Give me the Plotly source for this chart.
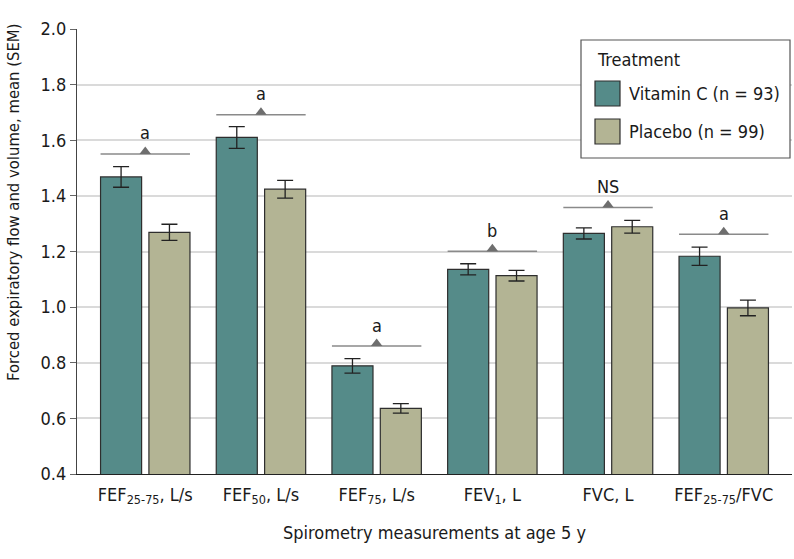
import plotly.graph_objects as go

# ---- data ----
categories = ["FEF<sub>25-75</sub>, L/s", "FEF<sub>50</sub>, L/s", "FEF<sub>75</sub>, L/s",
              "FEV<sub>1</sub>, L", "FVC, L", "FEF<sub>25-75</sub>/FVC"]
vitc_mean = [1.468, 1.610, 0.789, 1.136, 1.265, 1.183]
vitc_sem = [0.037, 0.039, 0.026, 0.020, 0.020, 0.033]
plac_mean = [1.269, 1.424, 0.636, 1.113, 1.289, 0.997]
plac_sem = [0.029, 0.032, 0.017, 0.019, 0.023, 0.028]
sig_level = [1.551, 1.692, 0.860, 1.201, 1.358, 1.262]
sig_label = ["a", "a", "a", "b", "NS", "a"]
y_ticks = [0.4, 0.6, 0.8, 1.0, 1.2, 1.4, 1.6, 1.8, 2.0]

# ---- style ----
FONT = "DejaVu Sans Condensed, DejaVu Sans"
TEXT = "#1a1a1a"
C_VIT = "#558b89"
C_PLA = "#b3b494"
OUTLINE = "#2e2e2e"
W, H = 794, 559
ML, MR, MT, MB = 77, 2, 29, 85
BARGAP = 0.164
GROUPGAP = 0.151
YMIN, YMAX = 0.4, 2.0
px_per_unit = (H - MT - MB) / (YMAX - YMIN)

x_idx = list(range(len(categories)))

fig = go.Figure()
fig.add_trace(go.Bar(
    x=x_idx, y=vitc_mean, name="Vitamin C (n = 93)",
    marker=dict(color=C_VIT, line=dict(color=OUTLINE, width=1.2)),
    error_y=dict(type="data", array=vitc_sem, color="#222", thickness=1.3, width=8),
))
fig.add_trace(go.Bar(
    x=x_idx, y=plac_mean, name="Placebo (n = 99)",
    marker=dict(color=C_PLA, line=dict(color=OUTLINE, width=1.2)),
    error_y=dict(type="data", array=plac_sem, color="#222", thickness=1.3, width=8),
))

# significance brackets
half = (1 - BARGAP) / 2 - (1 - BARGAP) / 2 * GROUPGAP / 2
for i, lvl in enumerate(sig_level):
    fig.add_trace(go.Scatter(
        x=[i - half, i + half], y=[lvl, lvl], mode="lines",
        line=dict(color="#8a8a8a", width=1.5), hoverinfo="skip", showlegend=False))
tri_size = 10
fig.add_trace(go.Scatter(
    x=x_idx, y=[l + (tri_size / 4) / px_per_unit for l in sig_level], mode="markers",
    marker=dict(symbol="triangle-up", size=tri_size, color="#6e6e6e"),
    hoverinfo="skip", showlegend=False))
for i, (lvl, lab) in enumerate(zip(sig_level, sig_label)):
    fig.add_annotation(x=i, y=lvl, text=lab, showarrow=False, yshift=21,
                       font=dict(family=FONT, size=18, color=TEXT))

# manual legend / free titles (pixel -> paper helpers)
def px2paper_x(px):
    return (px - ML) / (W - ML - MR)

def px2paper_y(py):
    return (H - MB - py) / (H - MT - MB)

shapes = [
    dict(type="rect", xref="paper", yref="paper",
         x0=px2paper_x(581), x1=px2paper_x(790), y0=px2paper_y(158), y1=px2paper_y(40),
         line=dict(color="#555", width=1.2), fillcolor="white", layer="above"),
    dict(type="rect", xref="paper", yref="paper",
         x0=px2paper_x(595), x1=px2paper_x(620), y0=px2paper_y(106), y1=px2paper_y(81),
         line=dict(color=OUTLINE, width=1.2), fillcolor=C_VIT, layer="above"),
    dict(type="rect", xref="paper", yref="paper",
         x0=px2paper_x(595), x1=px2paper_x(620), y0=px2paper_y(144), y1=px2paper_y(119),
         line=dict(color=OUTLINE, width=1.2), fillcolor=C_PLA, layer="above"),
]
for txt, px, py in [("Treatment", 595, 59), ("Vitamin C (n = 93)", 627, 93),
                    ("Placebo (n = 99)", 627, 131)]:
    fig.add_annotation(xref="paper", yref="paper", x=px2paper_x(px), y=px2paper_y(py),
                       text=txt, showarrow=False, xanchor="left", yanchor="middle",
                       font=dict(family=FONT, size=18, color=TEXT))

# y-axis title (placed as in the reference, slightly above plot centre)
fig.add_annotation(xref="paper", yref="paper", x=px2paper_x(13), y=px2paper_y(203),
                   text="Forced expiratory flow and volume, mean (SEM)", textangle=-90,
                   showarrow=False, xanchor="center", yanchor="middle",
                   font=dict(family=FONT, size=16.5, color=TEXT))

fig.update_layout(
    width=W, height=H, margin=dict(l=ML, r=MR, t=MT, b=MB, autoexpand=False),
    paper_bgcolor="white", plot_bgcolor="white",
    barmode="group", bargap=BARGAP, bargroupgap=GROUPGAP,
    showlegend=False, shapes=shapes,
    font=dict(family=FONT, size=18, color=TEXT),
    xaxis=dict(tickmode="array", tickvals=x_idx, ticktext=categories,
               range=[-0.59, len(categories) - 1 + 0.59], automargin=False,
               showline=True, linecolor="#222", linewidth=1.2, ticks="",
               ticklabelstandoff=4,
               showgrid=False, zeroline=False,
               tickfont=dict(family=FONT, size=18, color=TEXT),
               title=dict(text="Spirometry measurements at age 5 y", standoff=19,
                          font=dict(family=FONT, size=18, color=TEXT))),
    yaxis=dict(range=[YMIN, YMAX], tickvals=y_ticks, tickformat=".1f", automargin=False,
               showline=True, linecolor="#444", linewidth=1.2,
               ticks="outside", ticklen=6, tickcolor="#666",
               showgrid=True, gridcolor="#dadada", gridwidth=1.5, zeroline=False,
               tickfont=dict(family=FONT, size=18, color=TEXT)),
)

fig.write_html("out.html", config={"displayModeBar": False},
               post_script="document.body.style.margin='0px';")
